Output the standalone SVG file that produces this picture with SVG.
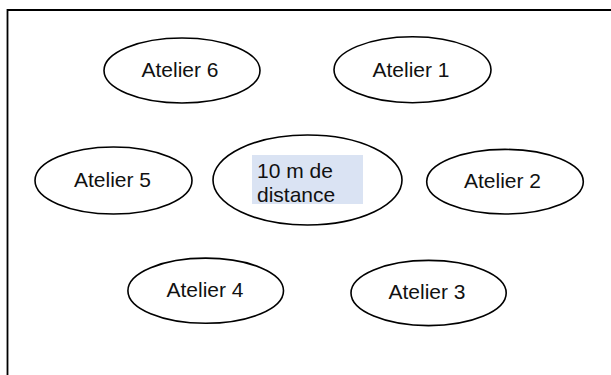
<svg xmlns="http://www.w3.org/2000/svg" width="611" height="375" viewBox="0 0 611 375">
<style>
.e{fill:none;stroke:#000;stroke-width:1.6}
.t{font-family:"Liberation Sans",Arial,sans-serif;font-size:21px;fill:#111}
.m{text-anchor:middle}
</style>
<rect width="611" height="375" fill="#fff"/>
<g id="frame">
<path d="M7.5 375 V10 H611" fill="none" stroke="#000" stroke-width="1.8"/>
</g>
<g id="atelier6"><ellipse class="e" cx="182" cy="70.5" rx="78" ry="32.5"/><text class="t m" x="180" y="77">Atelier 6</text></g>
<g id="atelier1"><ellipse class="e" cx="412.5" cy="69.7" rx="78.5" ry="33"/><text class="t m" x="411" y="77">Atelier 1</text></g>
<g id="atelier5"><ellipse class="e" cx="113.5" cy="180.5" rx="78.5" ry="33.5"/><text class="t m" x="112.5" y="187">Atelier 5</text></g>
<g id="centre"><ellipse class="e" cx="307.5" cy="180" rx="94.5" ry="45"/><rect x="252" y="155" width="111" height="49" fill="#dae3f3"/><text class="t" x="257" y="178">10 m de</text><text class="t" x="257" y="202">distance</text></g>
<g id="atelier2"><ellipse class="e" cx="505" cy="181.7" rx="78.3" ry="32.3"/><text class="t m" x="502.5" y="187.5">Atelier 2</text></g>
<g id="atelier4"><ellipse class="e" cx="205.7" cy="290.7" rx="77.8" ry="32.6"/><text class="t m" x="205" y="297">Atelier 4</text></g>
<g id="atelier3"><ellipse class="e" cx="428.6" cy="293" rx="77.6" ry="32.6"/><text class="t m" x="427" y="299">Atelier 3</text></g>
<g id="connectors"></g>
</svg>
